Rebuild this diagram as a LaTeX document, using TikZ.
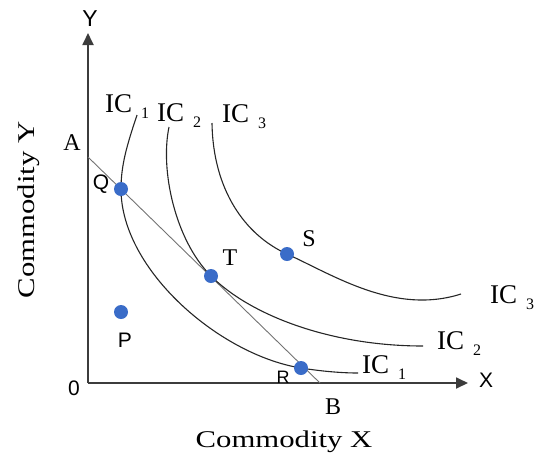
\documentclass[tikz,border=0pt]{standalone}
\usepackage{fontspec}
\setmainfont{Liberation Serif}
\newfontfamily\sansf{Liberation Sans}
\usetikzlibrary{arrows.meta}
\definecolor{dotc}{RGB}{58,108,200}
\definecolor{axc}{RGB}{60,60,60}
\newcommand\icl[1]{IC\hspace{9pt}\raisebox{-6pt}{\fontsize{16}{16}\selectfont #1}}
\begin{document}
\begin{tikzpicture}[x=1pt,y=-1pt,
  axis/.style={line width=1.8pt, draw=axc, -{Triangle[length=12pt,width=11pt]}},
  curve/.style={line width=1.1pt, draw=black!85},
  budget/.style={line width=0.9pt, draw=black!55},
  dot/.style={circle, fill=dotc, minimum size=14pt, inner sep=0pt, draw=none},
  slbl/.style={font=\fontsize{24}{24}\selectfont, inner sep=0pt},
  sslbl/.style={font=\sansf\fontsize{21}{21}\selectfont, inner sep=0pt},
  iclbl/.style={font=\fontsize{27}{27}\selectfont, inner sep=0pt, anchor=base west},
  ttl/.style={font=\fontsize{24}{24}\selectfont, inner sep=0pt, anchor=base}]
\useasboundingbox (0,0) rectangle (535,459);
% axes
\coordinate (O) at (88,383);
\coordinate (Ytop) at (88,33);
\coordinate (Xend) at (468,383);
\draw[axis] (O) -- (Ytop);
\draw[axis] (O) -- (Xend);
% budget line
\coordinate (Apt) at (88,157);
\coordinate (Bpt) at (320,383);
\draw[budget] (Apt) -- (Bpt);
% key points
\coordinate (Qp) at (121,189);
\coordinate (Tp) at (211,276);
\coordinate (Sp) at (287,254);
\coordinate (Rp) at (301,368);
\coordinate (Pp) at (121,312);
% indifference curves
\draw[curve] (137,115) .. controls (127,145) and (121,165) .. (Qp)
  .. controls (121,270) and (220,355) .. (Rp)
  .. controls (320,371) and (340,373) .. (358,373);
\draw[curve] (169,127) .. controls (160,170) and (175,240) .. (Tp)
  .. controls (250,315) and (330,346) .. (423,346);
\draw[curve] (212,123) .. controls (213,190) and (245,235) .. (Sp)
  .. controls (335,276) and (395,315) .. (461,294);
% points
\node[dot] (Q) at (Qp) {};
\node[dot] (T) at (Tp) {};
\node[dot] (S) at (Sp) {};
\node[dot] (P) at (Pp) {};
\node[dot] (R) at (Rp) {};
% point labels
\node[sslbl] (Ql) at (101,184) {Q};
\node[slbl] (Tl) at (230,258) {T};
\node[slbl] (Sl) at (309,239) {S};
\node[sslbl] (Pl) at (125,340) {P};
\node[sslbl, font=\sansf\fontsize{18}{18}\selectfont] (Rl) at (283,377) {R};
\node[slbl] (Al) at (72,143) {A};
\node[slbl] (Bl) at (333,407) {B};
\node[sslbl] (Ol) at (74,388) {0};
\node[sslbl] (Xl) at (486,380) {X};
\node[sslbl, font=\sansf\fontsize{23}{23}\selectfont] (Yl) at (90,19) {Y};
% IC labels
\node[iclbl] (ic1t) at (105,112) {\icl{1}};
\node[iclbl] (ic2t) at (157,121) {\icl{2}};
\node[iclbl] (ic3t) at (222,122) {\icl{3}};
\node[iclbl] (ic3r) at (490,303) {\icl{3}};
\node[iclbl] (ic2r) at (437,349) {\icl{2}};
\node[iclbl] (ic1r) at (362,373) {\icl{1}};
% axis titles
\node[ttl] (cx) at (284,447) {\scalebox{1.28}[1]{Commodity X}};
\node[ttl, rotate=90] (cy) at (34,210) {\scalebox{1.28}[1]{Commodity Y}};
\end{tikzpicture}
\end{document}
